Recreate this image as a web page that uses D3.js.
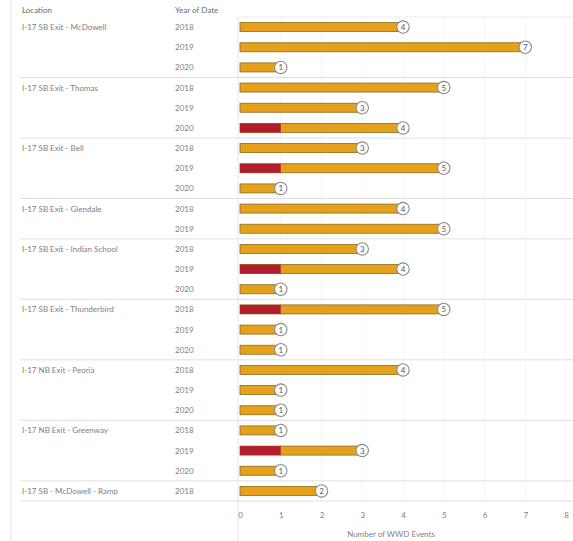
<!DOCTYPE html>
<html>
<head>
<meta charset="utf-8">
<script src="https://cdn.jsdelivr.net/npm/d3@7/dist/d3.min.js"></script>
<style>
  html, body { margin: 0; padding: 0; background: #fff; }
  svg { display: block; font-family: "Lato", "Open Sans", sans-serif; }
</style>
</head>
<body>
<svg id="chart" width="573" height="541"></svg>
<script>
// WWD events by exit location and year
const locations = [
  "I-17 SB Exit - McDowell",
  "I-17 SB Exit - Thomas",
  "I-17 SB Exit - Bell",
  "I-17 SB Exit - Glendale",
  "I-17 SB Exit - Indian School",
  "I-17 SB Exit - Thunderbird",
  "I-17 NB Exit - Peoria",
  "I-17 NB Exit - Greenway",
  "I-17 SB - McDowell - Ramp"
];
const years = [
  ["2018", "2019", "2020"],
  ["2018", "2019", "2020"],
  ["2018", "2019", "2020"],
  ["2018", "2019"],
  ["2018", "2019", "2020"],
  ["2018", "2019", "2020"],
  ["2018", "2019", "2020"],
  ["2018", "2019", "2020"],
  ["2018"]
];
// total events per row
const totals = [
  [4, 7, 1],
  [5, 3, 4],
  [3, 5, 1],
  [4, 5],
  [3, 4, 1],
  [5, 1, 1],
  [4, 1, 1],
  [1, 3, 1],
  [2]
];
// highlighted (red) part of each row
const highlighted = [
  [0, 0, 0],
  [0, 0, 1],
  [0, 1, 0],
  [0, 0],
  [0, 1, 0],
  [1, 0, 0],
  [0, 0, 0],
  [0, 1, 0],
  [0]
];
const xTicks = [0, 1, 2, 3, 4, 5, 6, 7, 8];

const rows = [];
locations.forEach((loc, i) => {
  years[i].forEach((yr, j) => {
    rows.push({ loc, yr, first: j === 0, last: j === years[i].length - 1,
                total: totals[i][j], red: highlighted[i][j], id: rows.length });
  });
});

const svg = d3.select("#chart");
const orange = "#E5A11C", orangeEdge = "#8C6A1E", red = "#B11D2A";
const textCol = "#808080";

const x = d3.scaleLinear().domain([0, 8]).range([240, 566]);
const y = d3.scaleBand().domain(rows.map(r => r.id)).range([17, 501]);

// panel frame lines
svg.append("line").attr("x1", 11).attr("x2", 11).attr("y1", 0).attr("y2", 541)
  .attr("stroke", "#e2e2e2");
svg.append("line").attr("x1", 238).attr("x2", 238).attr("y1", 17).attr("y2", 541)
  .attr("stroke", "#e6e6e6");
svg.append("line").attr("x1", 238).attr("x2", 573).attr("y1", 17).attr("y2", 17)
  .attr("stroke", "#ececec");

// vertical gridlines
svg.append("g").selectAll("line").data(xTicks.slice(1)).join("line")
  .attr("x1", d => x(d)).attr("x2", d => x(d))
  .attr("y1", 17).attr("y2", 501)
  .attr("stroke", "#f5f5f5");

// headers
svg.append("text").attr("x", 22).attr("y", 13).text("Location")
  .attr("font-size", 8).attr("fill", "#6a6a6a");
svg.append("text").attr("x", 175).attr("y", 13).text("Year of Date")
  .attr("font-size", 8).attr("fill", "#6a6a6a");

// group separators
svg.append("g").selectAll("line").data(rows.filter(r => r.last)).join("line")
  .attr("x1", 20).attr("x2", 573)
  .attr("y1", d => y(d.id) + y.bandwidth()).attr("y2", d => y(d.id) + y.bandwidth())
  .attr("stroke", "#e0e0e0");

// row labels
svg.append("g").selectAll("text").data(rows.filter(r => r.first)).join("text")
  .attr("x", 22).attr("y", d => y(d.id) + y.bandwidth() / 2 + 3)
  .attr("font-size", 8).attr("fill", textCol).text(d => d.loc);
svg.append("g").selectAll("text").data(rows).join("text")
  .attr("x", 175).attr("y", d => y(d.id) + y.bandwidth() / 2 + 3)
  .attr("font-size", 8).attr("fill", textCol).text(d => d.yr);

// bars
const barH = 9;
const bars = svg.append("g");
bars.selectAll("rect.total").data(rows).join("rect")
  .attr("class", "total")
  .attr("x", x(0)).attr("y", d => y(d.id) + (y.bandwidth() - barH) / 2)
  .attr("width", d => x(d.total) - x(0)).attr("height", barH)
  .attr("fill", orange).attr("stroke", orangeEdge).attr("stroke-width", 0.8);
bars.selectAll("rect.red").data(rows.filter(r => r.red > 0)).join("rect")
  .attr("class", "red")
  .attr("x", x(0)).attr("y", d => y(d.id) + (y.bandwidth() - barH) / 2)
  .attr("width", d => x(d.red) - x(0)).attr("height", barH)
  .attr("fill", red);

// value badges
const badges = svg.append("g").selectAll("g").data(rows).join("g")
  .attr("transform", d => `translate(${x(d.total)},${y(d.id) + y.bandwidth() / 2})`);
badges.append("circle").attr("r", 6.2)
  .attr("fill", "#fff").attr("stroke", "#8a8a8a").attr("stroke-width", 1.1);
badges.append("text").attr("text-anchor", "middle").attr("dy", 3)
  .attr("font-size", 8).attr("fill", "#555").text(d => d.total);

// x axis
const axis = d3.axisBottom(x).tickValues(xTicks).tickSize(0).tickPadding(9)
  .tickFormat(d3.format("d"));
const ax = svg.append("g").attr("transform", "translate(0,503)").call(axis);
ax.select(".domain").remove();
ax.selectAll("text").attr("font-size", 8).attr("fill", textCol)
  .attr("font-family", "Lato, sans-serif");

svg.append("text").attr("x", 391).attr("y", 537).attr("text-anchor", "middle")
  .attr("font-size", 8).attr("fill", textCol).text("Number of WWD Events");
</script>
</body>
</html>
